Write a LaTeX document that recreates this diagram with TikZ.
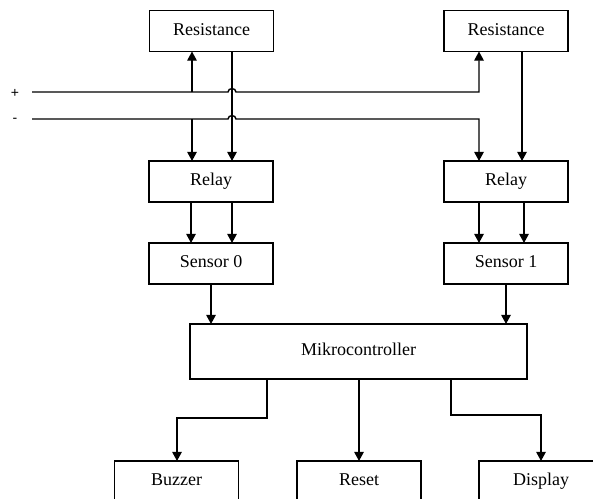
\documentclass[tikz,border=0pt]{standalone}
\usepackage{fontspec}
\setmainfont{Liberation Serif}
\newfontfamily\pmfont{Liberation Sans}
\usetikzlibrary{arrows.meta}
\begin{document}
\begin{tikzpicture}[x=0.5pt,y=-0.5pt,
  blk/.style={draw,line width=0.7pt,minimum width=62pt,minimum height=20.5pt,inner sep=0pt,outer sep=0pt,text height=6.3pt,text depth=1.9pt,font=\fontsize{9}{10}\selectfont},
  arr/.style={line width=0.7pt,-{Triangle[length=4.6pt,width=4.8pt]}},
  pm/.style={font=\pmfont\fontsize{7}{8}\selectfont,inner sep=0pt}]
\useasboundingbox (0,0) rectangle (593,498);
\begin{scope}
\clip (0,0) rectangle (593,498);
% boxes
\node[blk] (res0) at (211.5,31) {Resistance};
\node[blk] (res1) at (506,31) {Resistance};
\node[blk] (rel0) at (211,181.5) {Relay};
\node[blk] (rel1) at (506,181.5) {Relay};
\node[blk] (sen0) at (211,263.5) {Sensor 0};
\node[blk] (sen1) at (506,263.5) {Sensor 1};
\node[blk,minimum width=168.5pt,minimum height=27.5pt] (mc) at (358.5,351.5) {Mikrocontroller};
\node[blk] (buz) at (176.5,481.5) {Buzzer};
\node[blk] (rst) at (359,481.5) {Reset};
\node[blk,draw=none] (dsp) at (541,481.5) {Display};
\draw[line width=0.7pt] (dsp.south west) -- (dsp.north west) -- (dsp.north east);
\end{scope}
% labels
\node[pm] (plus) at (15,93) {+};
\node[pm] (minus) at (15,120) {-};
% supply lines
\coordinate (pL) at (32,92);
\coordinate (pR) at (479,92);
\coordinate (mL) at (32,119);
\coordinate (mR) at (479,119);
\coordinate (p0) at (192,92);
\coordinate (m0) at (192,119);
\draw[arr] (pL) -- (228,92) .. controls (228,87.5) and (236,87.5) .. (236,92) -- (pR) -- (pR |- res1.south);
\draw[arr] (mL) -- (228,119) .. controls (228,114.5) and (236,114.5) .. (236,119) -- (mR) -- (mR |- rel1.north);
\draw[arr] (p0) -- (p0 |- res0.south);
\draw[arr] (m0) -- (m0 |- rel0.north);
% resistance to relay
\coordinate (r0x) at (232,0);
\coordinate (r1x) at (522,0);
\draw[arr] (r0x |- res0.south) -- (r0x |- rel0.north);
\draw[arr] (r1x |- res1.south) -- (r1x |- rel1.north);
% relay to sensor
\coordinate (a0) at (191,0);
\coordinate (b0) at (232,0);
\coordinate (a1) at (479,0);
\coordinate (b1) at (524,0);
\draw[arr] (a0 |- rel0.south) -- (a0 |- sen0.north);
\draw[arr] (b0 |- rel0.south) -- (b0 |- sen0.north);
\draw[arr] (a1 |- rel1.south) -- (a1 |- sen1.north);
\draw[arr] (b1 |- rel1.south) -- (b1 |- sen1.north);
% sensor to mc
\draw[arr] (sen0.south) -- (sen0.south |- mc.north);
\draw[arr] (sen1.south) -- (sen1.south |- mc.north);
% mc to outputs
\coordinate (c1) at (267,0);
\coordinate (c3) at (451,0);
\draw[arr] (c1 |- mc.south) -- (267,418) -- (177,418) -- (177,0 |- buz.north);
\draw[arr] (rst.north |- mc.south) -- (rst.north);
\draw[arr] (c3 |- mc.south) -- (451,415) -- (541,415) -- (dsp.north);
\end{tikzpicture}
\end{document}
